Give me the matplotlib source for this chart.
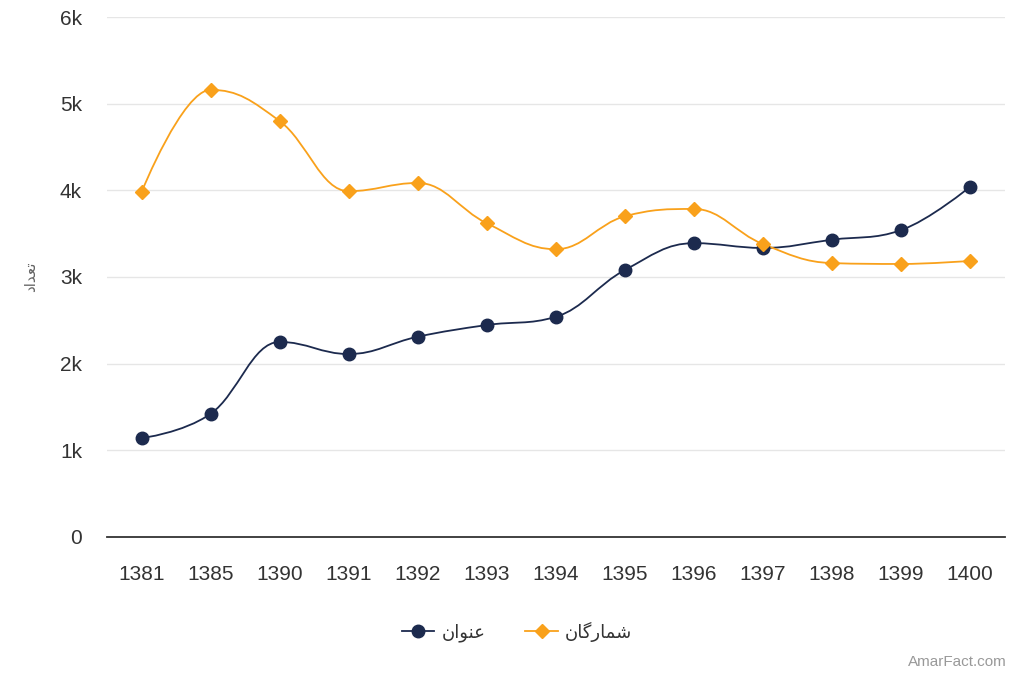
import numpy as np
import matplotlib.pyplot as plt
from matplotlib.path import Path
from matplotlib.patches import PathPatch
from matplotlib.lines import Line2D
from matplotlib.ticker import FuncFormatter

# DATOS
years = ['1381', '1385', '1390', '1391', '1392', '1393', '1394',
         '1395', '1396', '1397', '1398', '1399', '1400']
onvan = [1140, 1420, 2250, 2110, 2310, 2445, 2540, 3080, 3390, 3335, 3430, 3540, 4040]
shomaregan = [3980, 5160, 4800, 3990, 4085, 3620, 3320, 3700, 3785, 3380, 3160, 3150, 3185]

# textos persas en formas de presentacion (orden visual)
lbl_onvan = '\uFEE5\uFE8D\uFEEE\uFEE8\uFECB'            # عنوان
lbl_shom = '\uFEE5\uFE8E\uFB94\uFEAD\uFE8E\uFEE4\uFEB7'  # شمارگان
lbl_y = '\uFEA9\uFE8D\uFEAA\uFECC\uFE97'                # تعداد

navy = '#1c2a4e'
orange = '#f9a11b'
plt.rcParams['font.family'] = ['Liberation Sans', 'DejaVu Sans']


def spline_path(xs, ys, s=1.5):
    ''' curva suave tipo spline entre los puntos '''
    n = len(xs)
    left = [(xs[0], ys[0])] * n
    right = [(xs[0], ys[0])] * n
    for i in range(n):
        x, y = xs[i], ys[i]
        if i == 0 or i == n - 1:
            left[i] = (x, y)
            right[i] = (x, y)
            continue
        lx, ly = xs[i - 1], ys[i - 1]
        nx, ny = xs[i + 1], ys[i + 1]
        lcx = (s * x + lx) / (s + 1)
        lcy = (s * y + ly) / (s + 1)
        rcx = (s * x + nx) / (s + 1)
        rcy = (s * y + ny) / (s + 1)
        corr = (rcy - lcy) * (rcx - x) / (rcx - lcx) + y - rcy
        lcy += corr
        rcy += corr
        if lcy > ly and lcy > y:
            lcy = max(ly, y)
            rcy = 2 * y - lcy
        elif lcy < ly and lcy < y:
            lcy = min(ly, y)
            rcy = 2 * y - lcy
        if rcy > ny and rcy > y:
            rcy = max(ny, y)
            lcy = 2 * y - rcy
        elif rcy < ny and rcy < y:
            rcy = min(ny, y)
            lcy = 2 * y - rcy
        left[i] = (lcx, lcy)
        right[i] = (rcx, rcy)
    verts = [(xs[0], ys[0])]
    codes = [Path.MOVETO]
    for i in range(1, n):
        verts += [right[i - 1], left[i], (xs[i], ys[i])]
        codes += [Path.CURVE4] * 3
    return Path(verts, codes)


fig = plt.figure(figsize=(10.24, 6.83), dpi=100)
ax = fig.add_axes([0.1045, 0.214, 0.8765, 0.761])
x = np.arange(len(years))

for serie, color, mk, ms in [(onvan, navy, 'o', 9), (shomaregan, orange, 'D', 7.5)]:
    p = spline_path(list(x), list(serie))
    ax.add_patch(PathPatch(p, fill=False, edgecolor=color, lw=1.3, zorder=3))
    ax.plot(x, serie, linestyle='none', marker=mk, ms=ms, color=color, zorder=4)

ax.set_xlim(-0.5, len(years) - 0.5)
ax.set_ylim(0, 6000)
ax.set_yticks(np.arange(0, 6001, 1000))
ax.yaxis.set_major_formatter(FuncFormatter(lambda v, p: '0' if v == 0 else '%dk' % (v / 1000)))
ax.set_xticks(x)
ax.set_xticklabels(years)
ax.tick_params(axis='both', length=0, labelsize=15, labelcolor='#333333')
ax.tick_params(axis='x', pad=20)
ax.tick_params(axis='y', pad=18)
ax.grid(axis='y', color='#e6e6e6', lw=1)
ax.set_axisbelow(True)
for s in ['top', 'right', 'left']:
    ax.spines[s].set_visible(False)
ax.spines['bottom'].set_color('#333333')
ax.spines['bottom'].set_linewidth(1.3)

fig.text(0.03, 0.595, lbl_y, rotation=90, ha='center', va='center',
         fontsize=11, color='#666666', family=['DejaVu Sans'])

handles = [Line2D([], [], color=navy, marker='o', ms=9, lw=1.3),
           Line2D([], [], color=orange, marker='D', ms=7.5, lw=1.3)]
leg = fig.legend(handles, [lbl_onvan, lbl_shom], loc='center', bbox_to_anchor=(0.505, 0.075),
                 ncol=2, frameon=False, markerfirst=True, handlelength=1.8,
                 handletextpad=0.4, columnspacing=2.2, prop={'family': 'DejaVu Sans', 'size': 13})
for t in leg.get_texts():
    t.set_color('#333333')

fig.text(0.983, 0.02, 'AmarFact.com', ha='right', va='bottom', fontsize=11, color='#999999')

fig.savefig('out.png', dpi=100)
